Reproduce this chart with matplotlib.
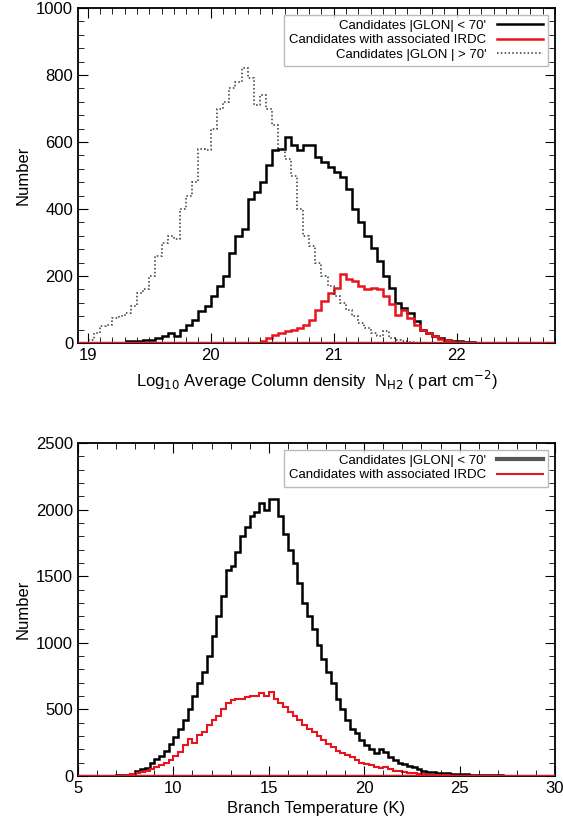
import numpy as np
import matplotlib
matplotlib.use("Agg")
import matplotlib.pyplot as plt
from matplotlib.ticker import AutoMinorLocator

plt.rcParams['font.family'] = ['Liberation Sans', 'DejaVu Sans']

# ---- top panel data (bin width 0.05 in log10 N) ----
top_width = 0.05
black_top_start = 19.30
black_top = [5, 5, 5, 8, 10, 15, 20, 30, 20, 40, 55, 70, 95, 110, 140, 170, 200, 270, 320, 340,
             430, 450, 480, 530, 575, 580, 615, 590, 575, 590, 590, 555, 540, 525, 510, 495, 460,
             400, 360, 320, 285, 245, 200, 165, 120, 105, 90, 65, 40, 30, 20, 15, 10, 7, 5, 3, 2, 1]
red_top_start = 20.40
red_top = [5, 15, 25, 30, 35, 40, 45, 55, 70, 100, 125, 150, 165, 205, 190, 185, 170, 160, 165,
           160, 140, 115, 85, 100, 75, 55, 40, 30, 20, 12, 8, 4, 2, 1]
dot_top_start = 19.00
dot_top = [10, 30, 50, 55, 75, 80, 90, 110, 150, 160, 200, 260, 300, 320, 310, 400, 440, 480, 580,
           575, 640, 700, 720, 760, 780, 820, 790, 710, 740, 700, 650, 580, 550, 500, 400, 320,
           290, 240, 200, 170, 140, 120, 100, 80, 60, 45, 30, 20, 35, 15, 10, 5, 3]

# ---- bottom panel data (bin width 0.25 K) ----
bot_width = 0.25
black_bot_start = 6.0
black_bot = [0, 0, 2, 3, 5, 8, 10, 15,
             40, 50, 60, 100, 130, 150, 190, 240, 290, 350, 420, 500, 600, 700, 780, 900,
             1050, 1200, 1350, 1550, 1580, 1680, 1800, 1870, 1950, 1980, 2050, 2000, 2080, 2080,
             1950, 1820, 1700, 1600, 1450, 1300, 1200, 1100, 980, 880, 780, 700, 580, 500, 420,
             350, 320, 270, 230, 200, 170, 200, 180, 140, 120, 100, 90, 75, 65, 50, 40, 30, 28,
             25, 22, 20, 18, 15, 15, 12, 10, 8, 6, 5, 5, 5, 5, 3, 2, 2, 1, 1, 1, 1, 0, 0, 0, 0]
red_bot_start = 7.5
red_bot = [5, 15, 20, 30, 35, 50, 65, 80, 100, 120, 150, 180, 230, 280, 250, 310, 330, 380, 420,
           450, 500, 550, 570, 580, 580, 590, 600, 600, 620, 600, 630, 580, 550, 520, 480, 450,
           420, 380, 350, 330, 300, 270, 240, 220, 190, 170, 160, 140, 120, 100, 90, 80, 70, 60,
           65, 50, 40, 35, 30, 25, 20, 15, 12, 10, 8, 6, 5, 4, 3, 3, 2, 2, 1, 1, 1, 1]

def steps(ax, start, width, vals, **kw):
    v = np.asarray(vals, float)
    edges = start + width * np.arange(len(v) + 1)
    ax.stairs(v, edges, baseline=None, **kw)

def style(ax):
    ax.tick_params(which='both', direction='in', top=True, right=True, labelsize=12)
    ax.tick_params(which='major', length=7)
    ax.tick_params(which='minor', length=4)
    ax.xaxis.set_minor_locator(AutoMinorLocator(10))
    ax.yaxis.set_minor_locator(AutoMinorLocator(5))
    for s in ax.spines.values():
        s.set_linewidth(1.3)

W, H = 563, 827
fig = plt.figure(figsize=(W / 100, H / 100), dpi=100)
L, R = 78, 555
ax1 = fig.add_axes([L / W, 1 - 343 / H, (R - L) / W, (343 - 8) / H])
ax2 = fig.add_axes([L / W, 1 - 776 / H, (R - L) / W, (776 - 443) / H])

steps(ax1, black_top_start, top_width, black_top, color='black', lw=1.8, label="Candidates |GLON| < 70'")
steps(ax1, red_top_start, top_width, red_top, color='#e8141e', lw=1.8, label="Candidates with associated IRDC")
steps(ax1, dot_top_start, top_width, dot_top, color='#333333', lw=1.1, ls=(0, (1, 1.5)), label="Candidates |GLON | > 70'")
ax1.axhline(0, color='#e8141e', lw=2.5, zorder=3)
ax1.set_xlim(18.92, 22.8)
ax1.set_ylim(0, 1000)
ax1.set_xticks([19, 20, 21, 22])
ax1.set_yticks([0, 200, 400, 600, 800, 1000])
style(ax1)
ax1.set_ylabel('Number', fontsize=12)
ax1.set_xlabel(r'Log$_{10}$ Average Column density  N$_{\rm H2}$ ( part cm$^{-2}$)', fontsize=12)
leg = ax1.legend(loc='upper right', markerfirst=False, fontsize=9.5, frameon=True, fancybox=False,
                 handlelength=3.5, borderpad=0.4, labelspacing=0.15, borderaxespad=0.5)
leg.get_frame().set_edgecolor('#aaaaaa')
for t in leg.get_texts():
    t.set_ha('right')

steps(ax2, black_bot_start, bot_width, black_bot, color='black', lw=1.8, label="Candidates |GLON| < 70'")
steps(ax2, red_bot_start, bot_width, red_bot, color='#e8141e', lw=1.5, label="Candidates with associated IRDC")
ax2.axhline(0, color='#e8141e', lw=2.5, zorder=3)
ax2.set_xlim(5, 30)
ax2.set_ylim(0, 2500)
ax2.set_xticks([5, 10, 15, 20, 25, 30])
ax2.set_yticks([0, 500, 1000, 1500, 2000, 2500])
style(ax2)
ax2.xaxis.set_minor_locator(AutoMinorLocator(5))
ax2.set_ylabel('Number', fontsize=12)
ax2.set_xlabel('Branch Temperature (K)', fontsize=12)
leg2 = ax2.legend(loc='upper right', markerfirst=False, fontsize=9.5, frameon=True, fancybox=False,
                  handlelength=3.5, borderpad=0.4, labelspacing=0.15, borderaxespad=0.5)
leg2.get_frame().set_edgecolor('#aaaaaa')
leg2.get_lines()[0].set_color('#555555')
leg2.get_lines()[0].set_linewidth(3)

fig.savefig('out.png', dpi=100)
